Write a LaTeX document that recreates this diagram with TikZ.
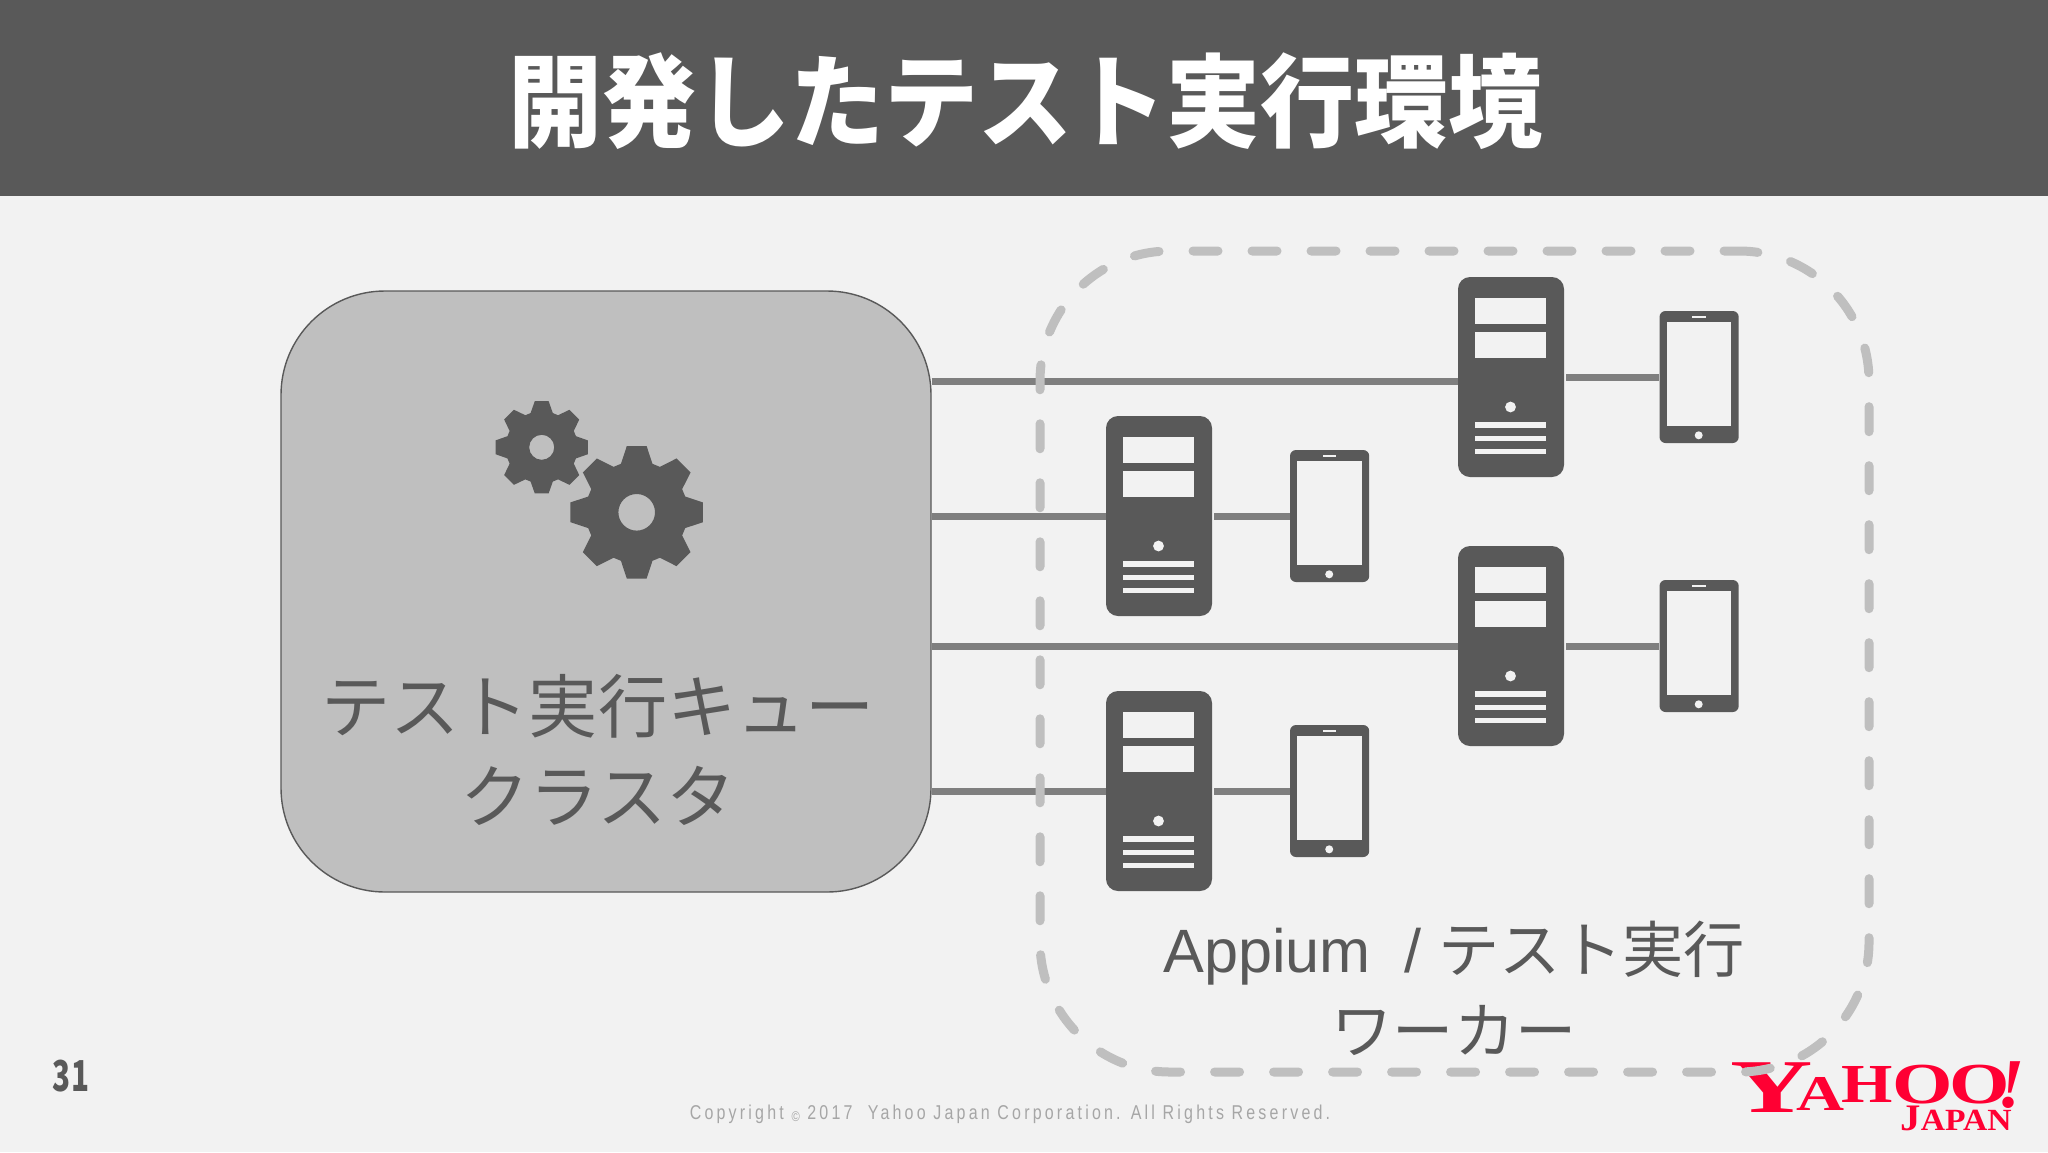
\documentclass[tikz,border=0pt]{standalone}
\usepackage{fontspec}
\setmainfont{Noto Sans CJK JP}
\newfontfamily\logofont{Liberation Serif}
\newfontfamily\latinfont{Liberation Sans}
\newfontfamily\footfont[LetterSpace=20]{Liberation Sans}
\definecolor{pagebg}{HTML}{F2F2F2}
\definecolor{dark}{HTML}{595959}
\definecolor{midgray}{HTML}{7F7F7F}
\definecolor{lightgray}{HTML}{BFBFBF}
\definecolor{footgray}{HTML}{A6A6A6}
\definecolor{yahoored}{HTML}{FF0033}
\tikzset{
  unitbox/.style={rectangle,fill=dark,inner sep=0pt,rounded corners=6pt,minimum width=53pt,minimum height=100pt},
  phonebox/.style={rectangle,fill=dark,inner sep=0pt,rounded corners=3pt,minimum width=39.6pt,minimum height=66pt},
  hole/.style={fill=pagebg},
  wire/.style={draw=midgray,line width=3.5pt},
  labeltext/.style={text=dark,align=center,inner sep=0pt},
}
\newcommand{\serverunit}[3]{%
  \begin{scope}[shift={(#2,#3)}]
    \node[unitbox] (#1) at (53,100) {};
    \fill[hole] (17,21) rectangle (88,47);
    \fill[hole] (17,55) rectangle (88,81);
    \fill[hole] (52.5,130) circle (5.4);
    \fill[hole] (17,145.3) rectangle (88,151);
    \fill[hole] (17,158.7) rectangle (88,164);
    \fill[hole] (17,171.7) rectangle (88,177);
  \end{scope}}
\newcommand{\phoneunit}[3]{%
  \begin{scope}[shift={(#2,#3)}]
    \node[phonebox] (#1) at (39.6,66) {};
    \fill[hole] (7,11.3) rectangle (71.5,115.3);
    \fill[hole] (32.5,5.3) rectangle (46,7.3);
    \fill[hole] (39.2,124.3) circle (4);
  \end{scope}}
\newcommand{\gearshape}[5]{%
  \fill[dark,even odd rule,shift={(#1,#2)}] (-18:#4)
    \foreach \a in {0,45,...,315} {
      -- ({\a-18}:#4) -- ({\a-8.5}:#3) -- ({\a+8.5}:#3) -- ({\a+18}:#4)
    } -- cycle (0,0) circle (#5);}
\begin{document}
\begin{tikzpicture}[x=0.5pt,y=-0.5pt]
\useasboundingbox (0,0) rectangle (2048,1152);
\fill[pagebg] (0,0) rectangle (2048,1152);
\fill[dark] (0,0) rectangle (2048,196);
\node[text=white,inner sep=0pt,font=\fontsize{47}{50}\selectfont\bfseries,yscale=1.08] (title) at (1025,101) {開発したテスト実行環境};

\node[rectangle,draw=dark,fill=lightgray,line width=0.7pt,rounded corners=52pt,minimum width=325pt,minimum height=300.5pt,inner sep=0pt] (cluster) at (606,591.5) {};
\gearshape{636.7}{512.3}{67}{51}{18.3}
\gearshape{541.7}{447.3}{46.7}{36}{12.5}
\node[labeltext,font=\fontsize{34.6}{45}\selectfont] (clusterlabel) at (598,750) {テスト実行キュー\\クラスタ};

\serverunit{sa}{1458}{277}
\serverunit{sb}{1106}{416}
\serverunit{sc}{1458}{546}
\serverunit{sd}{1106}{691}
\phoneunit{pa}{1659.5}{311}
\phoneunit{pb}{1290}{450}
\phoneunit{pc}{1659.5}{580}
\phoneunit{pd}{1290}{725}

\draw[wire] ([yshift=-2pt]sa.west -| cluster.east) -- ([yshift=-2pt]sa.west);
\draw[wire] (cluster.east |- sb.west) -- (sb.west);
\draw[wire] (cluster.east |- sc.west) -- (sc.west);
\draw[wire] (cluster.east |- sd.west) -- (sd.west);
\draw[wire] ([xshift=1pt]sa.east) -- (pa.west);
\draw[wire] ([xshift=1pt]sb.east) -- (pb.west |- sb.east);
\draw[wire] ([xshift=1pt]sc.east) -- (pc.west);
\draw[wire] ([xshift=1pt]sd.east) -- (pd.west);

\node[anchor=base west,inner sep=0pt,text=yahoored,font=\logofont\bfseries] (logo) at (1730,1112) {%
  \scalebox{1.5}[1]{\fontsize{38}{38}\selectfont Y}\kern-8pt
  \raisebox{1pt}{\scalebox{1.33}[1]{\fontsize{25}{25}\selectfont A}}\kern-1.5pt
  \raisebox{5pt}{\scalebox{1.2}[1]{\fontsize{27.5}{28}\selectfont H}}\kern-0.5pt
  \raisebox{4.5pt}{\scalebox{1.34}[1]{\fontsize{29}{29}\selectfont O}}\kern-1.5pt
  \raisebox{4.5pt}{\scalebox{1.34}[1]{\fontsize{29}{29}\selectfont O}}\kern-6.5pt
  \raisebox{2.5pt}{\scalebox{1}[1]{\fontsize{35}{35}\selectfont\itshape !}}};
\node[anchor=base west,inner sep=0pt,text=yahoored,font=\logofont\bfseries] (logojp) at (1900,1130) {%
  \scalebox{1.2}[1.1]{\fontsize{17}{17}\selectfont J\fontsize{14}{14}\selectfont APAN}};

\node[rectangle,draw=lightgray,line width=4.5pt,line cap=round,dash pattern=on 12.5pt off 17pt,dash phase=5pt,rounded corners=65pt,minimum width=414.5pt,minimum height=410.5pt,inner sep=0pt] (workers) at (1454.5,661.5) {};

\node[labeltext,font=\fontsize{30.6}{40.5}\selectfont] (workerlabel) at (1454,988) {{\latinfont Appium\ \ /\ }テスト実行\\ワーカー};

\node[text=dark,inner sep=0pt,font=\fontsize{19}{20}\selectfont\bfseries,xscale=0.78,yscale=1.12] (pageno) at (71,1076) {31};
\node[text=footgray,inner sep=0pt,font=\footfont\fontsize{10}{12}\selectfont,xscale=0.8] (copy) at (1010,1114) {Copyright \raisebox{-1pt}{\fontsize{7}{7}\selectfont ©} 2017\ \ Yahoo Japan Corporation. All Rights Reserved.};
\end{tikzpicture}
\end{document}
